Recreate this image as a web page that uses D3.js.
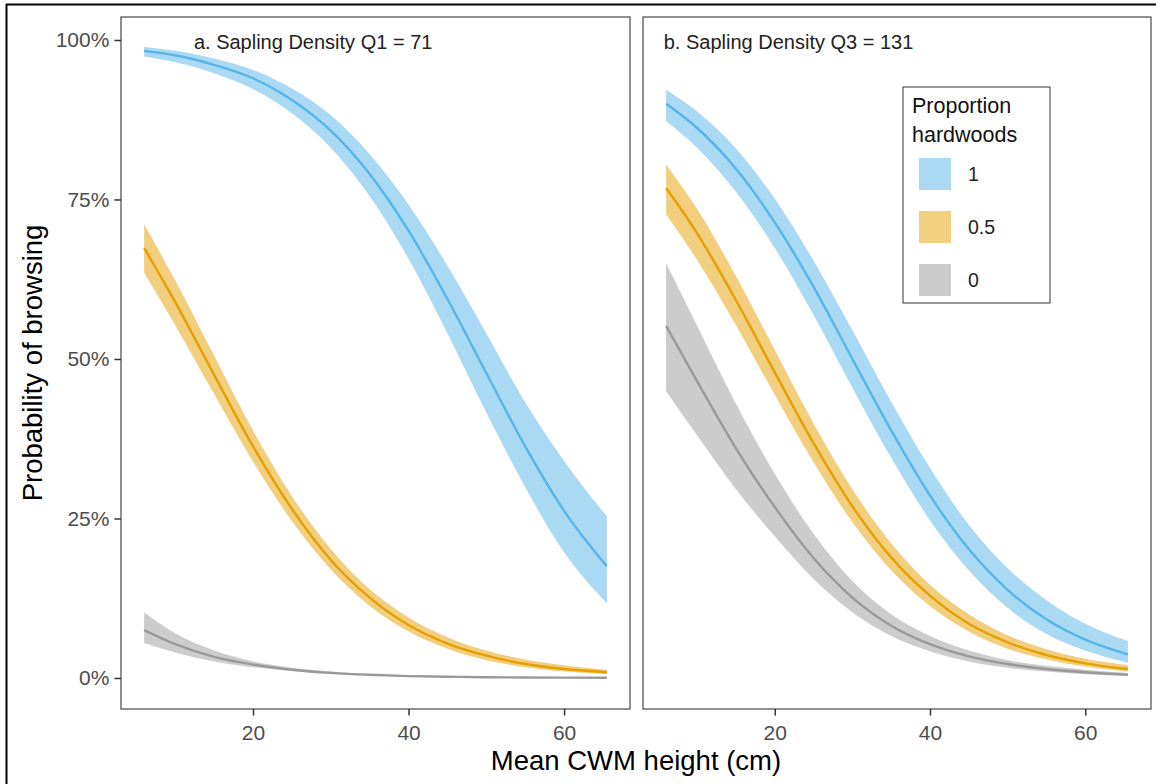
<!DOCTYPE html>
<html>
<head>
    <title>Probability of browsing</title>
    <style>
        body { margin: 0; background: #fff; }
        text { font-family: "Liberation Sans", Arial, sans-serif; }
        .tick text { fill: #4d4d4d; font-size: 21px; }
        .tick line { stroke: #333; stroke-width: 1.5px; }
        .panel-border { fill: none; stroke: #555; stroke-width: 1.3px; }
    </style>
</head>
<body>
<script src="https://cdn.jsdelivr.net/npm/d3@7"></script>
<script>
// x values (mean CWM height, cm)
const heights = [6, 10, 15, 20, 25, 30, 35, 40, 45, 50, 55, 60, 65.5];

// panel a: sapling density Q1 = 71
const aHw1Mean = [0.983, 0.976, 0.961, 0.940, 0.906, 0.858, 0.790, 0.701, 0.594, 0.478, 0.363, 0.262, 0.175];
const aHw1Lo   = [0.974, 0.965, 0.948, 0.923, 0.885, 0.831, 0.755, 0.657, 0.540, 0.416, 0.299, 0.197, 0.117];
const aHw1Hi   = [0.989, 0.983, 0.971, 0.953, 0.924, 0.882, 0.821, 0.742, 0.646, 0.540, 0.432, 0.340, 0.253];
const aHw05Mean = [0.674, 0.589, 0.475, 0.363, 0.265, 0.185, 0.126, 0.083, 0.054, 0.035, 0.022, 0.014, 0.009];
const aHw05Lo   = [0.635, 0.553, 0.445, 0.339, 0.246, 0.170, 0.113, 0.073, 0.046, 0.028, 0.017, 0.010, 0.006];
const aHw05Hi   = [0.711, 0.623, 0.505, 0.388, 0.285, 0.202, 0.139, 0.095, 0.064, 0.043, 0.029, 0.020, 0.013];
const aHw0Mean = [0.075, 0.053, 0.033, 0.021, 0.013, 0.008, 0.005, 0.003, 0.002, 0.0012, 0.0008, 0.0005, 0.0003];
const aHw0Lo   = [0.055, 0.040, 0.026, 0.017, 0.011, 0.007, 0.004, 0.0026, 0.0015, 0.0009, 0.0005, 0.0003, 0.0002];
const aHw0Hi   = [0.103, 0.070, 0.043, 0.026, 0.016, 0.010, 0.006, 0.004, 0.0026, 0.0017, 0.0011, 0.0007, 0.0005];

// panel b: sapling density Q3 = 131
const bHw1Mean = [0.900, 0.862, 0.798, 0.714, 0.613, 0.500, 0.388, 0.286, 0.202, 0.138, 0.092, 0.060, 0.037];
const bHw1Lo   = [0.873, 0.831, 0.762, 0.674, 0.569, 0.455, 0.345, 0.247, 0.169, 0.110, 0.069, 0.043, 0.024];
const bHw1Hi   = [0.922, 0.888, 0.830, 0.751, 0.654, 0.545, 0.433, 0.329, 0.240, 0.172, 0.122, 0.085, 0.058];
const bHw05Mean = [0.768, 0.697, 0.592, 0.479, 0.368, 0.269, 0.189, 0.129, 0.085, 0.056, 0.036, 0.023, 0.014];
const bHw05Lo   = [0.727, 0.655, 0.553, 0.444, 0.338, 0.244, 0.169, 0.113, 0.073, 0.046, 0.029, 0.018, 0.010];
const bHw05Hi   = [0.805, 0.735, 0.630, 0.514, 0.399, 0.296, 0.211, 0.146, 0.100, 0.067, 0.045, 0.030, 0.020];
const bHw0Mean = [0.552, 0.465, 0.360, 0.268, 0.188, 0.126, 0.082, 0.053, 0.034, 0.022, 0.014, 0.009, 0.005];
const bHw0Lo   = [0.450, 0.380, 0.296, 0.222, 0.155, 0.103, 0.066, 0.042, 0.026, 0.016, 0.010, 0.006, 0.0035];
const bHw0Hi   = [0.650, 0.552, 0.430, 0.320, 0.226, 0.152, 0.100, 0.066, 0.043, 0.028, 0.019, 0.013, 0.008];

const hwLevels = ["1", "0.5", "0"];
const hwColors = ["#56B4E9", "#E69F00", "#999999"];
const xTicks = [20, 40, 60];
const yTicks = [0, 0.25, 0.5, 0.75, 1];

const panels = [
    { label: "a. Sapling Density Q1 = 71", labelX: 12.4, left: 121, right: 630, yAxis: true,
      series: [[aHw0Mean, aHw0Lo, aHw0Hi], [aHw05Mean, aHw05Lo, aHw05Hi], [aHw1Mean, aHw1Lo, aHw1Hi]] },
    { label: "b. Sapling Density Q3 = 131", labelX: 5.7, left: 643, right: 1151, yAxis: false,
      series: [[bHw0Mean, bHw0Lo, bHw0Hi], [bHw05Mean, bHw05Lo, bHw05Hi], [bHw1Mean, bHw1Lo, bHw1Hi]] }
];
// series order above is grey, orange, blue
const seriesColors = [hwColors[2], hwColors[1], hwColors[0]];

const width = 1156, height = 784;
const plotTop = 17, plotBottom = 709;

const svg = d3.select("body").append("svg")
    .attr("width", width)
    .attr("height", height);

// outer frame (top and left edges visible in the image)
svg.append("line").attr("x1", 6).attr("x2", width).attr("y1", 4.5).attr("y2", 4.5)
    .attr("stroke", "#000").attr("stroke-width", 2);
svg.append("line").attr("x1", 6.5).attr("x2", 6.5).attr("y1", 4).attr("y2", height)
    .attr("stroke", "#000").attr("stroke-width", 2);

const y = d3.scaleLinear().domain([-0.0486, 1.036]).range([plotBottom, plotTop]);

panels.forEach(p => {
    const x = d3.scaleLinear().domain([3.025, 68.475]).range([p.left, p.right]);
    const g = svg.append("g");

    p.series.forEach((s, i) => {
        const [mean, lo, hi] = s;
        const pts = heights.map((h, k) => ({ x: h, m: mean[k], lo: lo[k], hi: hi[k] }));
        const area = d3.area()
            .x(d => x(d.x))
            .y0(d => y(d.lo))
            .y1(d => y(d.hi))
            .curve(d3.curveMonotoneX);
        g.append("path")
            .datum(pts)
            .attr("d", area)
            .attr("fill", seriesColors[i])
            .attr("fill-opacity", 0.5);
    });

    p.series.forEach((s, i) => {
        const mean = s[0];
        const line = d3.line()
            .x((d, k) => x(heights[k]))
            .y(d => y(d))
            .curve(d3.curveMonotoneX);
        g.append("path")
            .datum(mean)
            .attr("d", line)
            .attr("fill", "none")
            .attr("stroke", seriesColors[i])
            .attr("stroke-width", 2.4);
    });

    g.append("rect")
        .attr("class", "panel-border")
        .attr("x", p.left).attr("y", plotTop)
        .attr("width", p.right - p.left).attr("height", plotBottom - plotTop);

    g.append("text")
        .attr("x", x(p.labelX))
        .attr("y", y(0.986))
        .attr("font-size", 20)
        .attr("fill", "#222")
        .text(p.label);

    const xAxis = svg.append("g")
        .attr("transform", `translate(0,${plotBottom})`)
        .call(d3.axisBottom(x).tickValues(xTicks).tickSize(6.6).tickPadding(4));
    xAxis.select(".domain").remove();
    xAxis.selectAll(".tick text").attr("dy", "0.95em");

    if (p.yAxis) {
        const yAxis = svg.append("g")
            .attr("transform", `translate(${p.left},0)`)
            .call(d3.axisLeft(y).tickValues(yTicks).tickFormat(d3.format(".0%")).tickSize(6.6).tickPadding(5));
        yAxis.select(".domain").remove();
    }
});

// axis titles
svg.append("text")
    .attr("x", (121 + 1151) / 2)
    .attr("y", 770)
    .attr("text-anchor", "middle")
    .attr("font-size", 27.5)
    .attr("fill", "#000")
    .text("Mean CWM height (cm)");

svg.append("text")
    .attr("transform", `translate(42,${(plotTop + plotBottom) / 2}) rotate(-90)`)
    .attr("text-anchor", "middle")
    .attr("font-size", 27.5)
    .attr("fill", "#000")
    .text("Probability of browsing");

// legend
const legend = svg.append("g").attr("transform", "translate(903,87)");
legend.append("rect")
    .attr("width", 147).attr("height", 216)
    .attr("fill", "#fff").attr("stroke", "#333").attr("stroke-width", 1);
legend.append("text").attr("x", 9).attr("y", 26).attr("font-size", 21.5).attr("fill", "#111").text("Proportion");
legend.append("text").attr("x", 9).attr("y", 55).attr("font-size", 21.5).attr("fill", "#111").text("hardwoods");
hwLevels.forEach((lvl, i) => {
    const row = legend.append("g").attr("transform", `translate(16,${71 + i * 53})`);
    row.append("rect")
        .attr("width", 32).attr("height", 32)
        .attr("fill", hwColors[i]).attr("fill-opacity", 0.5);
    row.append("text")
        .attr("x", 49).attr("y", 23)
        .attr("font-size", 19.5)
        .attr("fill", "#222")
        .text(lvl);
});
</script>
</body>
</html>
